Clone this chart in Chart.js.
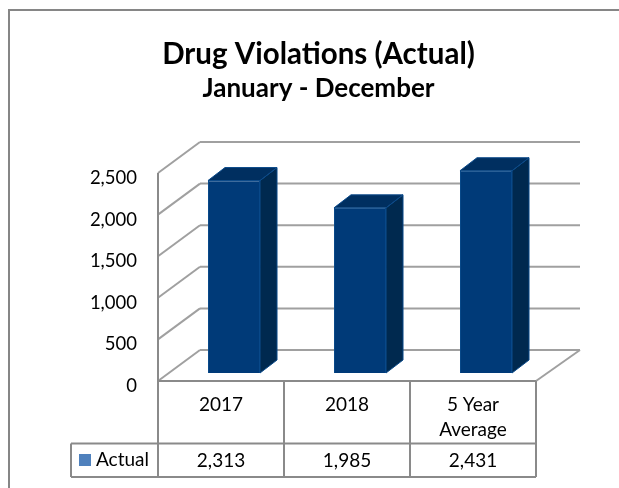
<!DOCTYPE html>
<html><head><meta charset="utf-8">
<style>html,body{margin:0;padding:0;background:#fff}#w{position:relative;width:619px;height:488px}</style>
<script src="https://cdn.jsdelivr.net/npm/chart.js@4"></script>
</head><body><div id="w"><canvas id="c"></canvas></div>
<script>
const categories = ["2017", "2018", ["5 Year", "Average"]];
const seriesName = "Actual";
const actual = [2313, 1985, 2431];
const tableValues = ["2,313", "1,985", "2,431"];
const yTicks = [0, 500, 1000, 1500, 2000, 2500];
const FONT = "Lato, 'Open Sans', sans-serif";
const GRID = "#a0a0a0", EDGE = "#8a8a8a";
const WALL = {dx: 42, dy: -31};
const BAR = {dx: 13, dy: -8, depthX: 17, depthY: -13};

function line(ctx, x1, y1, x2, y2, color, width) {
  ctx.strokeStyle = color; ctx.lineWidth = width;
  ctx.beginPath(); ctx.moveTo(x1, y1); ctx.lineTo(x2, y2); ctx.stroke();
}
function poly(ctx, pts, fill, stroke) {
  ctx.fillStyle = fill; ctx.beginPath();
  pts.forEach((p, i) => i ? ctx.lineTo(p[0], p[1]) : ctx.moveTo(p[0], p[1]));
  ctx.closePath(); ctx.fill();
  if (stroke) { ctx.strokeStyle = stroke; ctx.lineWidth = 1; ctx.stroke(); }
}
const box3d = {
  id: "box3d",
  afterLayout(chart) {
    // let the value labels extend left of the narrow axis box
    chart.scales.y.left = 0;
  },
  beforeDatasetsDraw(chart) {
    const {ctx, chartArea: a, scales: {y}} = chart;
    ctx.save();
    yTicks.forEach(v => {
      const py = y.getPixelForValue(v);
      const right = a.right + WALL.dx + 2;
      line(ctx, a.left, py, a.left + WALL.dx, py + WALL.dy, GRID, 2);
      line(ctx, a.left + WALL.dx, py + WALL.dy, right, py + WALL.dy, GRID, 2);
      if (v === 0) line(ctx, a.right, py, right, py + WALL.dy, GRID, 2);
    });
    ctx.restore();
  },
  beforeDatasetDraw(chart) {
    chart.ctx.save();
    chart.ctx.translate(BAR.dx, BAR.dy);
  },
  afterDatasetDraw(chart) {
    const ctx = chart.ctx;
    chart.getDatasetMeta(0).data.forEach(b => {
      const l = b.x - b.width / 2, r = b.x + b.width / 2, t = b.y, bt = b.base;
      const dx = BAR.depthX, dy = BAR.depthY;
      poly(ctx, [[r, t], [r + dx, t + dy], [r + dx, bt + dy], [r, bt]], "#00294f", "#0a4a8a");
      poly(ctx, [[l, t], [l + dx, t + dy], [r + dx, t + dy], [r, t]], "#002f60", "#0a4a8a");
    });
    ctx.restore();
  },
  afterDraw(chart) {
    const {ctx, chartArea: a, scales: {x, y}} = chart;
    ctx.save();
    // outer frame: only the left and top edges fall inside the picture
    line(ctx, 9, 10, 9, chart.height, "#868686", 2);
    line(ctx, 8, 10, chart.width, 10, "#868686", 2);
    // axes and table
    const tTop = 443.5, tBot = 477;
    const step = (a.right - a.left) / categories.length;
    line(ctx, a.left, y.getPixelForValue(2500), a.left, tBot, EDGE, 2);
    line(ctx, a.left, a.bottom, a.right, a.bottom, EDGE, 2);
    for (let i = 1; i <= categories.length; i++) {
      line(ctx, a.left + i * step, a.bottom, a.left + i * step, tBot, EDGE, 2);
    }
    line(ctx, 71, tTop, a.right, tTop, EDGE, 2);
    line(ctx, 71, tBot, a.right, tBot, EDGE, 2);
    line(ctx, 71, tTop, 71, tBot, EDGE, 2);
    // legend key and values
    ctx.fillStyle = "#4f81bd";
    ctx.fillRect(79, 454, 12, 12);
    ctx.fillStyle = "#000";
    ctx.font = "19px " + FONT;
    ctx.textBaseline = "middle";
    ctx.textAlign = "left";
    ctx.fillText(seriesName, 96, 459.5);
    ctx.textAlign = "center";
    tableValues.forEach((t, i) => ctx.fillText(t, x.getPixelForTick(i), 460.5));
    ctx.restore();
  }
};

new Chart(document.getElementById("c"), {
  type: "bar",
  data: {labels: categories, datasets: [{
    label: seriesName, data: actual,
    backgroundColor: "#003a78", borderColor: "#0a4a8a", borderWidth: 1,
    barPercentage: 0.413, categoryPercentage: 1
  }]},
  options: {
    responsive: true, maintainAspectRatio: false, animation: false,
    layout: {padding: {left: 101, right: 83, top: 0, bottom: 11}},
    plugins: {
      legend: {display: false}, tooltip: {enabled: false},
      title: {display: true, text: "Drug Violations (Actual)", color: "#000",
        font: {family: FONT, size: 29.5, weight: "bold", lineHeight: 1.2},
        padding: {top: 37, bottom: 1}},
      subtitle: {display: true, text: "January - December", color: "#000",
        font: {family: FONT, size: 26, weight: "bold", lineHeight: 1.2},
        padding: {top: 0, bottom: 68.4}}
    },
    scales: {
      x: {
        grid: {display: false}, border: {display: false},
        ticks: {color: "#000", font: {family: FONT, size: 19, lineHeight: 1.3},
          padding: 4, maxRotation: 0, autoSkip: false},
        afterFit(s) { s.height = 96; }
      },
      y: {
        min: 0, max: 2500,
        grid: {display: false}, border: {display: false},
        afterBuildTicks(s) { s.ticks = yTicks.map(v => ({value: v})); },
        afterFit(s) { s.width = 57; },
        ticks: {color: "#000", font: {family: FONT, size: 18.5}, padding: 13, labelOffset: 5,
          callback: v => v.toLocaleString("en-US")}
      }
    }
  },
  plugins: [box3d]
});
</script></body></html>
